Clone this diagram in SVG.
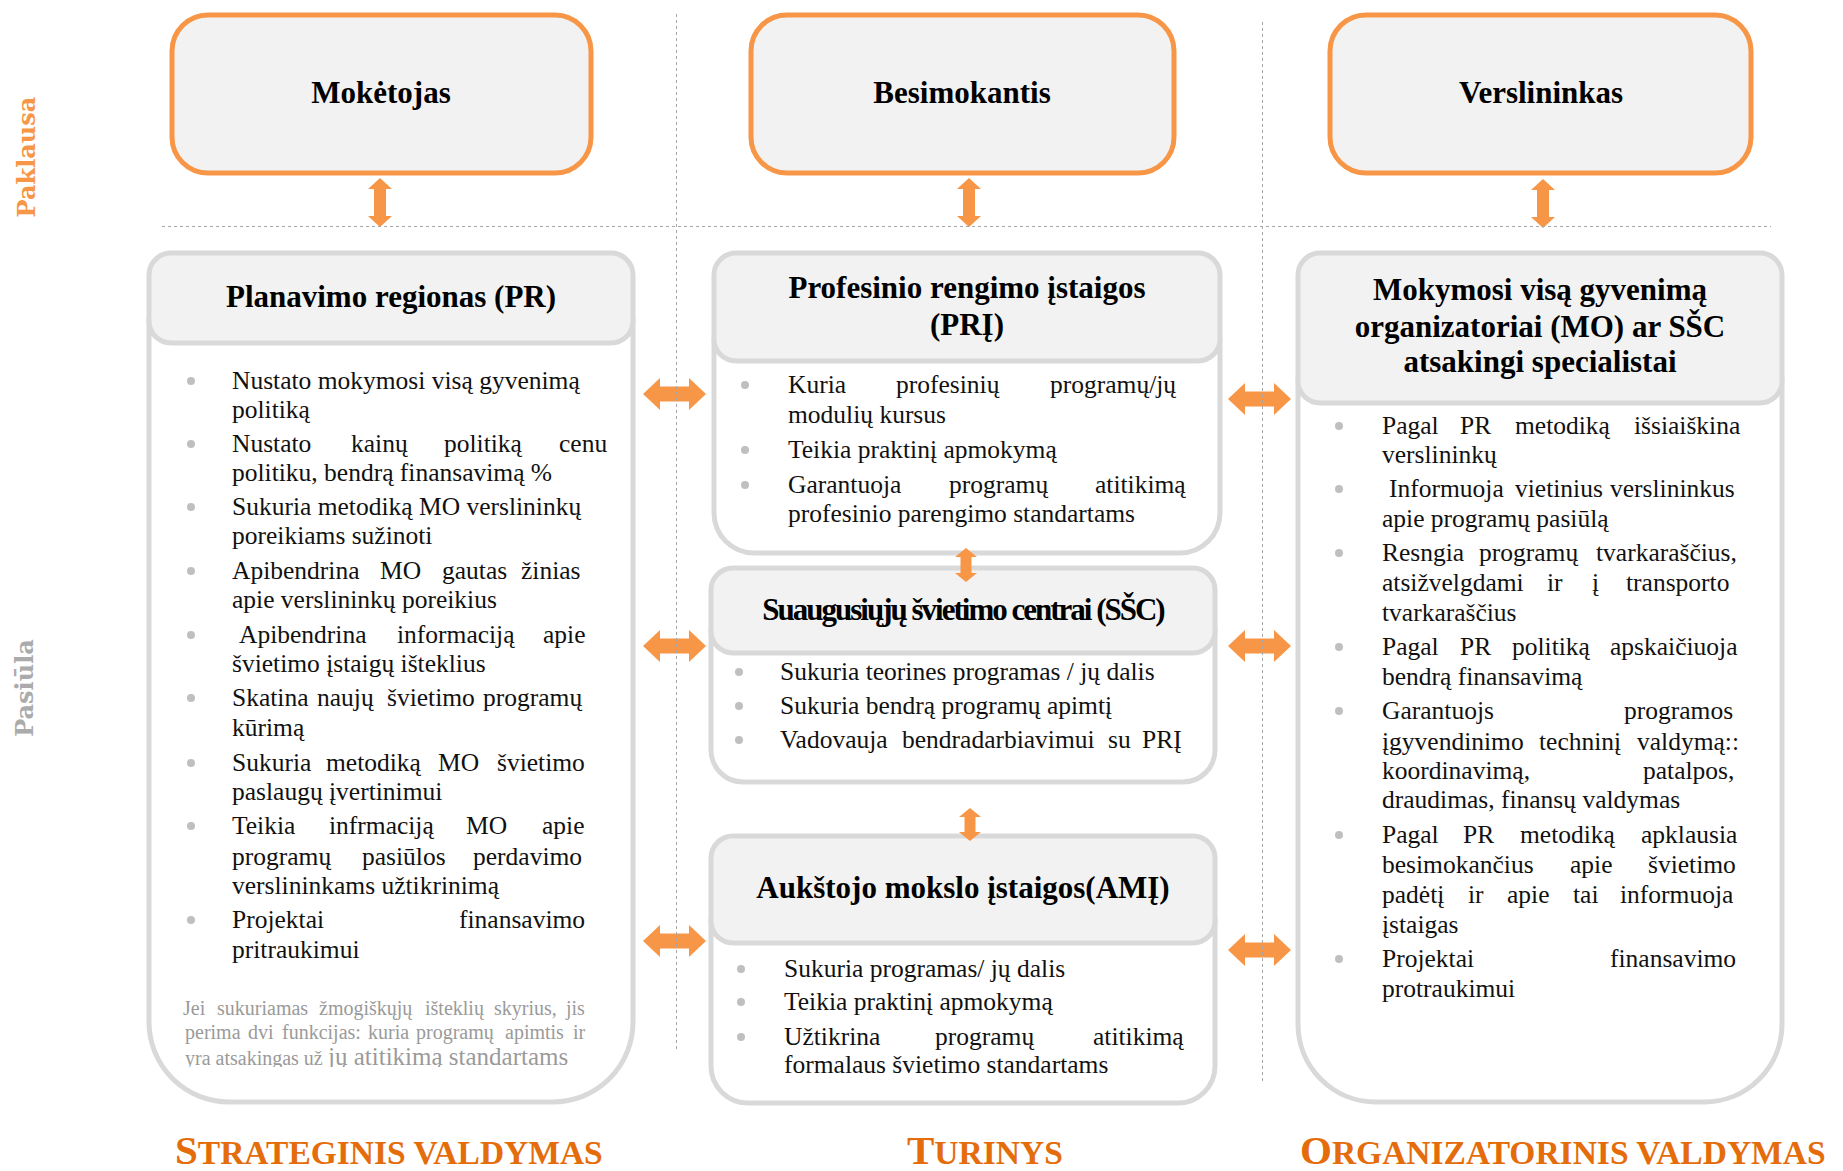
<svg xmlns="http://www.w3.org/2000/svg" width="1843" height="1171" viewBox="0 0 1843 1171">
<style>
.t{font-family:"Liberation Serif","Times New Roman",serif;font-size:25.5px;fill:#111}
.h{font-family:"Liberation Serif","Times New Roman",serif;font-weight:bold;font-size:31px;fill:#000;text-anchor:middle}
.n{font-family:"Liberation Serif","Times New Roman",serif;font-size:20px;fill:#9a9a9a}
.top{fill:#f2f2f2;stroke:#f79646;stroke-width:5}
.hd{fill:#f2f2f2;stroke:#d9d9d9;stroke-width:5}
.bd{fill:#fff;stroke:#d9d9d9;stroke-width:5}
.bl{fill:#bfbfbf}
.ar{fill:#f79646}
.dl{fill:none;stroke:#a6a6a6;stroke-width:1;stroke-dasharray:3 3}
.side{font-family:"DejaVu Serif",serif;font-weight:bold;font-size:24px;text-anchor:middle}
.ft{font-family:"Liberation Serif","Times New Roman",serif;font-weight:bold;font-size:33.5px;fill:#e46c0a}
.big{font-size:41px}
</style>
<defs>
<clipPath id="noteclip"><rect x="150" y="990" width="480" height="77"/></clipPath>
</defs>

<g id="labels">
<text class="side" fill="#f79646" transform="translate(35,157) rotate(-90)">Paklausa</text>
<text class="side" fill="#ababab" transform="translate(33,688) rotate(-90)">Pasiūla</text>
</g>

<g id="moketojas">
<rect class="top" x="172" y="15" width="419" height="158" rx="36"/>
<text class="h" x="381" y="103">Mokėtojas</text>
</g>
<g id="besimokantis">
<rect class="top" x="751" y="15" width="423" height="158" rx="36"/>
<text class="h" x="962" y="103">Besimokantis</text>
</g>
<g id="verslininkas">
<rect class="top" x="1330" y="15" width="421" height="158" rx="36"/>
<text class="h" x="1541" y="103">Verslininkas</text>
</g>

<g id="pr">
<path class="bd" d="M149,320 L633,320 L633,1022 A80,80 0 0 1 553,1102 L229,1102 A80,80 0 0 1 149,1022 Z"/>
<rect class="hd" x="149" y="253" width="484" height="90" rx="22"/>
<text class="h" x="391" y="307">Planavimo regionas (PR)</text>
<g class="bl">
<circle cx="191" cy="381" r="4"/><circle cx="191" cy="444" r="4"/><circle cx="191" cy="507" r="4"/><circle cx="191" cy="571" r="4"/><circle cx="191" cy="635" r="4"/><circle cx="191" cy="698" r="4"/><circle cx="191" cy="763" r="4"/><circle cx="191" cy="826" r="4"/><circle cx="191" cy="920" r="4"/>
</g>
<text class="t" x="232" y="389">Nustato mokymosi visą gyvenimą</text>
<text class="t" x="232" y="418">politiką</text>
<text class="t" y="452"><tspan x="232">Nustato</tspan><tspan x="351">kainų</tspan><tspan x="444">politiką</tspan><tspan x="559">cenu</tspan></text>
<text class="t" x="232" y="481">politiku, bendrą finansavimą %</text>
<text class="t" x="232" y="515">Sukuria metodiką MO verslininkų</text>
<text class="t" x="232" y="544">poreikiams sužinoti</text>
<text class="t" y="579"><tspan x="232">Apibendrina</tspan><tspan x="380">MO</tspan><tspan x="442">gautas</tspan><tspan x="521">žinias</tspan></text>
<text class="t" x="232" y="608">apie verslininkų poreikius</text>
<text class="t" y="643"><tspan x="239">Apibendrina</tspan><tspan x="397">informaciją</tspan><tspan x="543">apie</tspan></text>
<text class="t" x="232" y="672">švietimo įstaigų išteklius</text>
<text class="t" y="706"><tspan x="232">Skatina</tspan><tspan x="317">naujų</tspan><tspan x="387">švietimo</tspan><tspan x="483">programų</tspan></text>
<text class="t" x="232" y="736">kūrimą</text>
<text class="t" y="771"><tspan x="232">Sukuria</tspan><tspan x="326">metodiką</tspan><tspan x="438">MO</tspan><tspan x="497">švietimo</tspan></text>
<text class="t" x="232" y="800">paslaugų įvertinimui</text>
<text class="t" y="834"><tspan x="232">Teikia</tspan><tspan x="329">infrmaciją</tspan><tspan x="466">MO</tspan><tspan x="542">apie</tspan></text>
<text class="t" y="865"><tspan x="232">programų</tspan><tspan x="362">pasiūlos</tspan><tspan x="473">perdavimo</tspan></text>
<text class="t" x="232" y="894">verslininkams užtikrinimą</text>
<text class="t" y="928"><tspan x="232">Projektai</tspan><tspan x="459">finansavimo</tspan></text>
<text class="t" x="232" y="958">pritraukimui</text>
<text class="n" y="1015"><tspan x="183">Jei</tspan><tspan x="217">sukuriamas</tspan><tspan x="319">žmogiškųjų</tspan><tspan x="425">išteklių</tspan><tspan x="494">skyrius,</tspan><tspan x="566">jis</tspan></text>
<text class="n" y="1039"><tspan x="185">perima</tspan><tspan x="248">dvi</tspan><tspan x="282">funkcijas:</tspan><tspan x="368">kuria</tspan><tspan x="416">programų</tspan><tspan x="505">apimtis</tspan><tspan x="573">ir</tspan></text>
<g clip-path="url(#noteclip)">
<text class="n" x="185" y="1065">yra atsakingas už</text>
<text class="n" x="328" y="1065" style="font-size:25px">jų atitikimą standartams</text>
</g>
</g>

<g id="pri">
<path class="bd" d="M714,340 L1220,340 L1220,513 A40,40 0 0 1 1180,553 L754,553 A40,40 0 0 1 714,513 Z"/>
<rect class="hd" x="714" y="253" width="506" height="108" rx="22"/>
<text class="h" x="967" y="298">Profesinio rengimo įstaigos</text>
<text class="h" x="967" y="335">(PRĮ)</text>
<g class="bl"><circle cx="745" cy="385" r="4"/><circle cx="745" cy="450" r="4"/><circle cx="745" cy="485" r="4"/></g>
<text class="t" y="393"><tspan x="788">Kuria</tspan><tspan x="896">profesinių</tspan><tspan x="1050">programų/jų</tspan></text>
<text class="t" x="788" y="423">modulių kursus</text>
<text class="t" x="788" y="458">Teikia praktinį apmokymą</text>
<text class="t" y="493"><tspan x="788">Garantuoja</tspan><tspan x="949">programų</tspan><tspan x="1095">atitikimą</tspan></text>
<text class="t" x="788" y="522">profesinio parengimo standartams</text>
</g>

<g id="ssc">
<path class="bd" d="M711,630 L1215,630 L1215,750 A32,32 0 0 1 1183,782 L743,782 A32,32 0 0 1 711,750 Z"/>
<rect class="hd" x="711" y="568" width="504" height="85" rx="22"/>
<text class="h" x="963" y="620" style="letter-spacing:-2px">Suaugusiųjų švietimo centrai (SŠC)</text>
<g class="bl"><circle cx="739" cy="672" r="4"/><circle cx="739" cy="706" r="4"/><circle cx="739" cy="740" r="4"/></g>
<text class="t" x="780" y="680">Sukuria teorines programas / jų dalis</text>
<text class="t" x="780" y="714">Sukuria bendrą programų apimtį</text>
<text class="t" y="748"><tspan x="780">Vadovauja</tspan><tspan x="902">bendradarbiavimui</tspan><tspan x="1108">su</tspan><tspan x="1142">PRĮ</tspan></text>
</g>

<g id="ami">
<path class="bd" d="M711,920 L1215,920 L1215,1066 A37,37 0 0 1 1178,1103 L748,1103 A37,37 0 0 1 711,1066 Z"/>
<rect class="hd" x="711" y="836" width="504" height="107" rx="22"/>
<text class="h" x="963" y="898">Aukštojo mokslo įstaigos(AMĮ)</text>
<g class="bl"><circle cx="741" cy="969" r="4"/><circle cx="741" cy="1002" r="4"/><circle cx="741" cy="1037" r="4"/></g>
<text class="t" x="784" y="977">Sukuria programas/ jų dalis</text>
<text class="t" x="784" y="1010">Teikia praktinį apmokymą</text>
<text class="t" y="1045"><tspan x="784">Užtikrina</tspan><tspan x="935">programų</tspan><tspan x="1093">atitikimą</tspan></text>
<text class="t" x="784" y="1073">formalaus švietimo standartams</text>
</g>

<g id="mo">
<path class="bd" d="M1298,380 L1782,380 L1782,1024 A78,78 0 0 1 1704,1102 L1376,1102 A78,78 0 0 1 1298,1024 Z"/>
<rect class="hd" x="1298" y="253" width="484" height="150" rx="22"/>
<text class="h" x="1540" y="300">Mokymosi visą gyvenimą</text>
<text class="h" x="1540" y="337">organizatoriai (MO) ar SŠC</text>
<text class="h" x="1540" y="372">atsakingi specialistai</text>
<g class="bl"><circle cx="1339" cy="426" r="4"/><circle cx="1339" cy="489" r="4"/><circle cx="1339" cy="553" r="4"/><circle cx="1339" cy="647" r="4"/><circle cx="1339" cy="711" r="4"/><circle cx="1339" cy="835" r="4"/><circle cx="1339" cy="959" r="4"/></g>
<text class="t" y="434"><tspan x="1382">Pagal</tspan><tspan x="1460">PR</tspan><tspan x="1515">metodiką</tspan><tspan x="1634">išsiaiškina</tspan></text>
<text class="t" x="1382" y="463">verslininkų</text>
<text class="t" y="497"><tspan x="1389">Informuoja</tspan><tspan x="1515">vietinius</tspan><tspan x="1610">verslininkus</tspan></text>
<text class="t" x="1382" y="527">apie programų pasiūlą</text>
<text class="t" y="561"><tspan x="1382">Resngia</tspan><tspan x="1479">programų</tspan><tspan x="1596">tvarkaraščius,</tspan></text>
<text class="t" y="591"><tspan x="1382">atsižvelgdami</tspan><tspan x="1547">ir</tspan><tspan x="1592">į</tspan><tspan x="1626">transporto</tspan></text>
<text class="t" x="1382" y="621">tvarkaraščius</text>
<text class="t" y="655"><tspan x="1382">Pagal</tspan><tspan x="1460">PR</tspan><tspan x="1512">politiką</tspan><tspan x="1610">apskaičiuoja</tspan></text>
<text class="t" x="1382" y="685">bendrą finansavimą</text>
<text class="t" y="719"><tspan x="1382">Garantuojs</tspan><tspan x="1624">programos</tspan></text>
<text class="t" y="750"><tspan x="1382">įgyvendinimo</tspan><tspan x="1539">techninį</tspan><tspan x="1637">valdymą::</tspan></text>
<text class="t" y="779"><tspan x="1382">koordinavimą,</tspan><tspan x="1643">patalpos,</tspan></text>
<text class="t" x="1382" y="808">draudimas, finansų valdymas</text>
<text class="t" y="843"><tspan x="1382">Pagal</tspan><tspan x="1463">PR</tspan><tspan x="1520">metodiką</tspan><tspan x="1641">apklausia</tspan></text>
<text class="t" y="873"><tspan x="1382">besimokančius</tspan><tspan x="1570">apie</tspan><tspan x="1648">švietimo</tspan></text>
<text class="t" y="903"><tspan x="1382">padėtį</tspan><tspan x="1468">ir</tspan><tspan x="1507">apie</tspan><tspan x="1573">tai</tspan><tspan x="1620">informuoja</tspan></text>
<text class="t" x="1382" y="933">įstaigas</text>
<text class="t" y="967"><tspan x="1382">Projektai</tspan><tspan x="1610">finansavimo</tspan></text>
<text class="t" x="1382" y="997">protraukimui</text>
</g>

<g id="connectors">
<path class="ar" d="M380,178 L392,189 L386,189 L386,216 L392,216 L380,227 L368,216 L374,216 L374,189 L368,189 Z"/>
<path class="ar" d="M969,178 L981,189 L975,189 L975,216 L981,216 L969,227 L957,216 L963,216 L963,189 L957,189 Z"/>
<path class="ar" d="M1543,179 L1555,190 L1549,190 L1549,217 L1555,217 L1543,228 L1531,217 L1537,217 L1537,190 L1531,190 Z"/>
<path class="ar" d="M966,548 L977,557 L971.5,557 L971.5,573 L977,573 L966,582 L955,573 L960.5,573 L960.5,557 L955,557 Z"/>
<path class="ar" d="M970,808 L981,817 L975.5,817 L975.5,832 L981,832 L970,841 L959,832 L964.5,832 L964.5,817 L959,817 Z"/>
<path class="ar" d="M643,394 L660,378 L660,386.5 L689,386.5 L689,378 L706,394 L689,410 L689,401.5 L660,401.5 L660,410 Z"/>
<path class="ar" d="M643,646 L660,630 L660,638.5 L689,638.5 L689,630 L706,646 L689,662 L689,653.5 L660,653.5 L660,662 Z"/>
<path class="ar" d="M643,941 L660,925 L660,933.5 L689,933.5 L689,925 L706,941 L689,957 L689,948.5 L660,948.5 L660,957 Z"/>
<path class="ar" d="M1228,399 L1245,383 L1245,391.5 L1274,391.5 L1274,383 L1291,399 L1274,415 L1274,406.5 L1245,406.5 L1245,415 Z"/>
<path class="ar" d="M1228,646 L1245,630 L1245,638.5 L1274,638.5 L1274,630 L1291,646 L1274,662 L1274,653.5 L1245,653.5 L1245,662 Z"/>
<path class="ar" d="M1228,950 L1245,934 L1245,942.5 L1274,942.5 L1274,934 L1291,950 L1274,966 L1274,957.5 L1245,957.5 L1245,966 Z"/>
<line class="dl" x1="162" y1="226.5" x2="1771" y2="226.5"/>
<line class="dl" x1="676.5" y1="14" x2="676.5" y2="1050"/>
<line class="dl" x1="1262.5" y1="22" x2="1262.5" y2="1084"/>
</g>

<g id="titles">
<text class="ft" x="175" y="1164"><tspan class="big">S</tspan>TRATEGINIS VALDYMAS</text>
<text class="ft" x="907" y="1164"><tspan class="big">T</tspan>URINYS</text>
<text class="ft" x="1300" y="1164"><tspan class="big">O</tspan>RGANIZATORINIS VALDYMAS</text>
</g>
</svg>
